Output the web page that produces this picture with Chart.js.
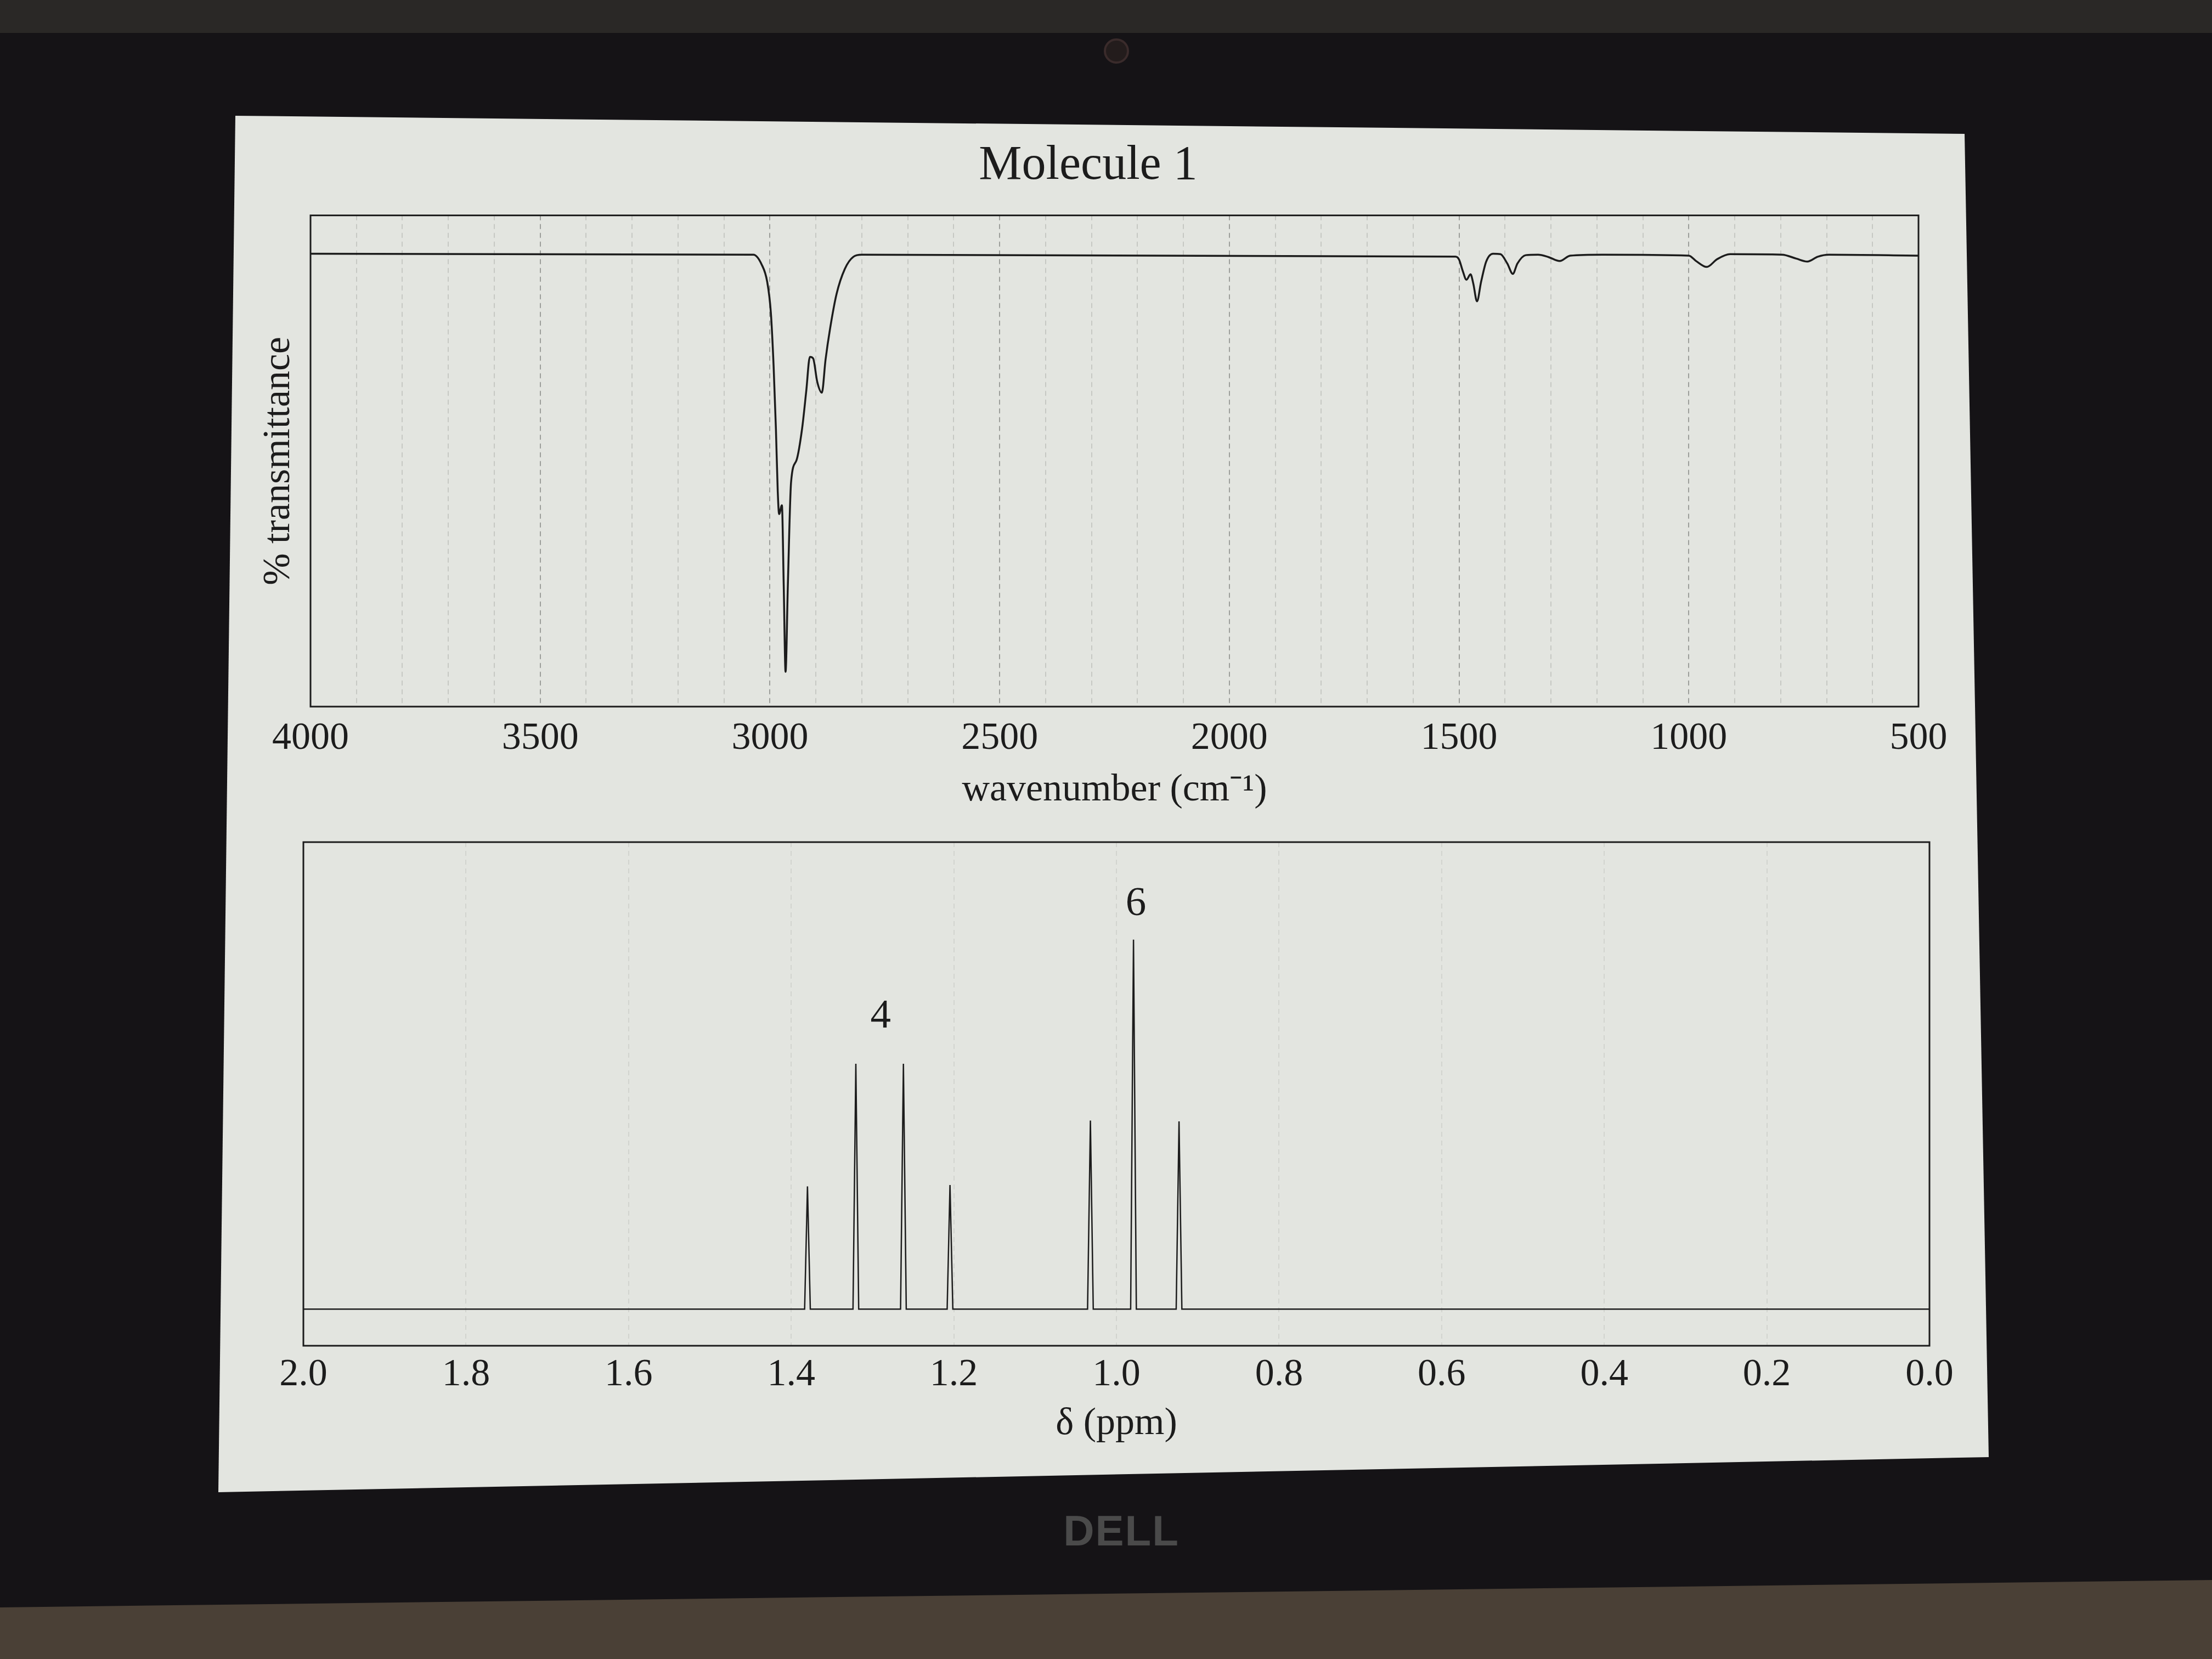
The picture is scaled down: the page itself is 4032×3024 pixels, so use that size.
<!DOCTYPE html>
<html>
<head>
<meta charset="utf-8">
<title>Molecule 1</title>
<script src="https://cdn.jsdelivr.net/npm/chart.js@4.4.1/dist/chart.umd.min.js"></script>
<style>
html,body{margin:0;padding:0;}
body{width:4032px;height:3024px;background:#151316;position:relative;overflow:hidden;font-family:"Liberation Serif",serif;}
#marcoTop{position:absolute;left:0;top:0;width:4032px;height:60px;background:#2a2826;}
#camara{position:absolute;left:2012px;top:70px;width:38px;height:38px;border-radius:50%;background:#231c1c;border:4px solid #3a2b2b;}
#pantalla{position:absolute;left:0;top:0;width:4032px;height:3024px;background:#e3e5e0;
  clip-path:polygon(429px 211px,3581px 244px,3625px 2656px,398px 2720px);}
#base{position:absolute;left:0;top:0;width:4032px;height:3024px;background:#4a4036;
  clip-path:polygon(0px 2930px,4032px 2880px,4032px 3024px,0px 3024px);}
#logo{position:absolute;left:1894px;top:2745px;width:300px;text-align:center;font-family:"Liberation Sans",sans-serif;
  font-weight:bold;font-size:78px;letter-spacing:2px;color:#4a4a4a;}
#cajaIR{position:absolute;left:414px;top:226px;width:3188px;height:1258px;}
#cajaRMN{position:absolute;left:414px;top:1510px;width:3188px;height:1129px;}
</style>
</head>
<body>
<div id="marcoTop"></div>
<div id="camara"></div>
<div id="pantalla"></div>
<div id="base"></div>
<div id="logo">DELL</div>
<div id="cajaIR"><canvas id="ir"></canvas></div>
<div id="cajaRMN"><canvas id="rmn"></canvas></div>

<script>
// IR spectrum (cm-1 , % transmittance)
var irWavenumber = [4000, 3036, 3018, 3006, 2998, 2992, 2987, 2983, 2980, 2974, 2970, 2966, 2961, 2954, 2942, 2930, 2921, 2913, 2906, 2897, 2887, 2879, 2869, 2855, 2837, 2818, 2800,
  1508, 1500, 1492, 1484, 1475, 1469, 1461, 1452, 1441, 1426, 1410, 1395, 1383, 1373, 1355, 1328, 1305, 1281, 1258, 1188,
  1000, 984, 961, 938, 910, 797, 766, 742, 719, 695, 500];
var irTransmittance = [92.2, 92.0, 90.0, 86.5, 80.2, 69.3, 56.6, 43.8, 39.2, 41.0, 24.7, 7.1, 24.7, 45.7, 50.2, 56.6, 64.2, 71.2, 70.9, 66.1, 63.9, 70.6, 77.0, 84.0, 89.1, 91.6, 92.0,
  91.6, 91.0, 88.7, 86.9, 88.0, 86.1, 82.5, 86.5, 90.6, 92.2, 92.1, 90.2, 88.1, 90.2, 91.9, 92.0, 91.5, 90.7, 91.8, 92.0,
  91.8, 90.7, 89.5, 91.1, 92.1, 92.0, 91.2, 90.6, 91.6, 92.0, 91.8];

// 1H NMR spectrum (ppm , intensity)
var nmrShift = [2.0, 1.3835, 1.380, 1.3765, 1.324, 1.3205, 1.317, 1.2655, 1.262, 1.2585, 1.2082, 1.2047, 1.2012,
  1.0355, 1.032, 1.0285, 0.9825, 0.979, 0.9755, 0.9265, 0.923, 0.9195, 0.0];
var nmrIntensity = [0, 0, 26.8, 0, 0, 53.6, 0, 0, 53.6, 0, 0, 27.1, 0,
  0, 41.2, 0, 0, 80.7, 0, 0, 41.0, 0, 0];

// integration labels over the multiplets
var nmrIntegrales = ['4', '6'];
var nmrIntegralPpm = [1.290, 0.976];
var nmrIntegralNivel = [63.8, 88.4];

var fuente = 'Liberation Serif';
var tinta = '#1c1c1c';

var marcoPlugin = {
  id: 'marco',
  afterDatasetsDraw: function(chart){
    var a = chart.chartArea, ctx = chart.ctx;
    ctx.save();
    ctx.strokeStyle = tinta;
    ctx.lineWidth = 3;
    ctx.strokeRect(a.left, a.top, a.right - a.left, a.bottom - a.top);
    ctx.restore();
  }
};

var integralesPlugin = {
  id: 'integrales',
  afterDatasetsDraw: function(chart){
    var ctx = chart.ctx, sx = chart.scales.x, sy = chart.scales.y;
    ctx.save();
    ctx.fillStyle = tinta;
    ctx.font = '75px "' + fuente + '"';
    ctx.textAlign = 'center';
    ctx.textBaseline = 'middle';
    for (var i = 0; i < nmrIntegrales.length; i++) {
      ctx.fillText(nmrIntegrales[i], sx.getPixelForValue(nmrIntegralPpm[i]), sy.getPixelForValue(nmrIntegralNivel[i]));
    }
    ctx.restore();
  }
};

function puntos(xs, ys){
  var d = [];
  for (var i = 0; i < xs.length; i++) d.push({x: xs[i], y: ys[i]});
  return d;
}

CrearIR();
CrearRMN();

function CrearIR(){
  var ctx = document.getElementById('ir');
  new Chart(ctx, {
    type: 'line',
    data: {
      datasets: [{
        data: puntos(irWavenumber, irTransmittance),
        borderColor: tinta,
        borderWidth: 3.5,
        pointRadius: 0,
        cubicInterpolationMode: 'monotone',
        fill: false
      }]
    },
    options: {
      responsive: true,
      maintainAspectRatio: false,
      animation: false,
      layout: {padding: {left: 56, right: 105, top: 0, bottom: 8}},
      plugins: {
        legend: {display: false},
        tooltip: {enabled: false},
        title: {
          display: true,
          text: 'Molecule 1',
          color: tinta,
          font: {family: fuente, size: 88, weight: 'normal'},
          padding: {top: 24, bottom: 37}
        }
      },
      scales: {
        x: {
          type: 'linear',
          reverse: true,
          min: 500,
          max: 4000,
          border: {display: false, dash: [9, 7]},
          grid: {
            drawTicks: false,
            lineWidth: 2,
            color: function(c){ return c.tick && c.tick.value % 500 === 0 ? '#9c9e9a' : '#c6c8c3'; }
          },
          ticks: {
            stepSize: 100,
            autoSkip: false,
            maxRotation: 0,
            padding: 24,
            color: tinta,
            font: {family: fuente, size: 70, lineHeight: 1},
            callback: function(v){ return v % 500 === 0 ? String(v) : ''; }
          },
          title: {
            display: true,
            text: 'wavenumber (cm\u207B\u00B9)',
            color: tinta,
            font: {family: fuente, size: 70, lineHeight: 1},
            padding: {top: 0, bottom: 0}
          }
        },
        y: {
          min: 0,
          max: 100,
          border: {display: false},
          grid: {display: false, drawTicks: false},
          ticks: {display: false},
          title: {
            display: true,
            text: '% transmittance',
            color: tinta,
            font: {family: fuente, size: 70, lineHeight: 1},
            padding: {top: 4, bottom: 22}
          }
        }
      }
    },
    plugins: [marcoPlugin]
  });
}

function CrearRMN(){
  var ctx = document.getElementById('rmn');
  new Chart(ctx, {
    type: 'line',
    data: {
      datasets: [{
        data: puntos(nmrShift, nmrIntensity),
        borderColor: tinta,
        borderWidth: 2.5,
        pointRadius: 0,
        tension: 0,
        fill: false
      }]
    },
    options: {
      responsive: true,
      maintainAspectRatio: false,
      animation: false,
      layout: {padding: {left: 139, right: 85, top: 25, bottom: 8}},
      plugins: {
        legend: {display: false},
        tooltip: {enabled: false}
      },
      scales: {
        x: {
          type: 'linear',
          reverse: true,
          min: 0,
          max: 2,
          border: {display: false, dash: [9, 7]},
          grid: {drawTicks: false, lineWidth: 2, color: '#d2d4cf'},
          ticks: {
            stepSize: 0.2,
            autoSkip: false,
            maxRotation: 0,
            padding: 19,
            color: tinta,
            font: {family: fuente, size: 70, lineHeight: 1},
            callback: function(v){ return Number(v).toFixed(1); }
          },
          title: {
            display: true,
            text: '\u03B4 (ppm)',
            color: tinta,
            font: {family: fuente, size: 70, lineHeight: 1},
            padding: {top: 0, bottom: 0}
          }
        },
        y: {
          display: false,
          min: -8,
          max: 102
        }
      }
    },
    plugins: [marcoPlugin, integralesPlugin]
  });
}
</script>
</body>
</html>
